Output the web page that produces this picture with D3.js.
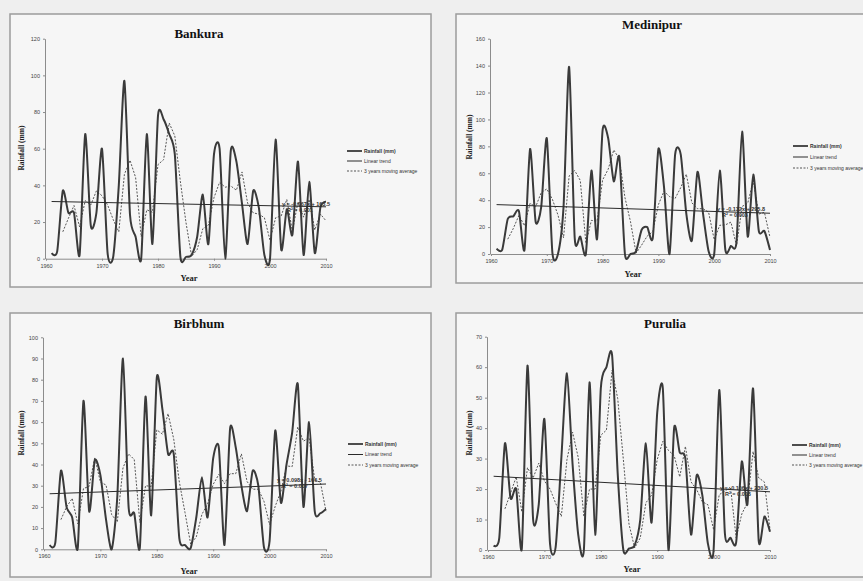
<!DOCTYPE html>
<html>
<head>
<meta charset="utf-8">
<script src="https://cdn.jsdelivr.net/npm/d3@7"></script>
<style>
  body { margin: 0; background: #efefef; }
  svg { display: block; }
</style>
</head>
<body>
<svg id="chart" width="863" height="581"></svg>
<script>
// years of record and decade ticks
const years = d3.range(1961, 2011)
const xTicks = [1960, 1970, 1980, 1990, 2000, 2010]

// annual rainfall (mm), 1961..2010
const bankuraRain = [3, 4, 37, 25, 25, 2, 68, 18, 25, 60,
  3, 1, 40, 97, 24, 12, 0, 68, 8, 78,
  76, 68, 57, 1, 1, 2, 12, 35, 8, 57,
  60, 0, 59, 53, 30, 8, 37, 28, 2, 0,
  65, 5, 27, 13, 53, 2, 42, 3, 28, 31]
const medinipurRain = [4, 3, 26, 28, 32, 3, 78, 24, 35, 86,
  1, 0, 35, 139, 12, 13, 0, 62, 11, 92,
  86, 54, 72, 0, 0, 2, 18, 20, 12, 78,
  50, 0, 74, 74, 30, 10, 61, 30, 2, 0,
  62, 3, 6, 9, 91, 13, 59, 17, 17, 3]
const birbhumRain = [2, 3, 37, 20, 15, 1, 70, 18, 42, 35,
  14, 0, 25, 90, 20, 17, 1, 72, 16, 81,
  66, 45, 45, 5, 2, 0.5, 15, 34, 15, 43,
  48, 2, 57, 48, 30, 18, 37, 30, 1, 4,
  56, 22, 40, 55, 78, 20, 60, 18, 17, 19]
const puruliaRain = [1.5, 4, 35, 17, 20, 0.5, 60.5, 10, 15, 43,
  2, 1, 30, 58, 28, 5, 0, 55, 5, 53,
  60, 64, 25, 0, 0.5, 1.5, 10, 35, 9, 45,
  53, 0, 40, 32, 30, 5, 24.5, 18, 2, 0,
  52.5, 5.5, 4, 2.5, 29, 15, 53, 3, 11, 6]

// linear trend values at 1961 and 2010
const bankuraTrend = [31.2, 28.3]
const medinipurTrend = [36.7, 30.3]
const birbhumTrend = [26.2, 30.8]
const puruliaTrend = [24.2, 19.1]

// y tick labels
const bankuraTicks = [0, 20, 40, 60, 80, 100, 120]
const medinipurTicks = [0, 20, 40, 60, 80, 100, 120, 140, 160]
const birbhumTicks = [0, 10, 20, 30, 40, 50, 60, 70, 80, 90, 100]
const puruliaTicks = [0, 10, 20, 30, 40, 50, 60, 70]

// trend equations
const bankuraEq = ['y = -0.067x + 163.5', 'R\u00b2 = 0.001']
const medinipurEq = ['y = -0.132x + 295.8', 'R\u00b2 = 0.003']
const birbhumEq = ['y = 0.098x - 166.5', 'R\u00b2 = 0.007']
const puruliaEq = ['y = -0.106x + 230.5', 'R\u00b2 = 0.008']

const legendLabels = ['Rainfall (mm)', 'Linear trend', '3 years moving average']

const serif = '"Liberation Serif", "DejaVu Serif", serif'
const sans = '"Liberation Sans", Arial, sans-serif'

const panels = [
  { name: 'Bankura', rain: bankuraRain, trend: bankuraTrend, ticks: bankuraTicks, eq: bankuraEq,
    frame: [10, 14, 421, 273], plot: [46, 326, 38.7, 258.7],
    title: [199, 38], yLabel: [21, 148], xLabel: [189, 281], legend: [347, 151, 10], eqPos: [282, 206] },
  { name: 'Medinipur', rain: medinipurRain, trend: medinipurTrend, ticks: medinipurTicks, eq: medinipurEq,
    frame: [456, 14, 430, 269], plot: [491, 770, 38.7, 254],
    title: [652, 29], yLabel: [469, 137], xLabel: [633, 277], legend: [793, 146, 11], eqPos: [717, 211] },
  { name: 'Birbhum', rain: birbhumRain, trend: birbhumTrend, ticks: birbhumTicks, eq: birbhumEq,
    frame: [10, 313, 421, 264], plot: [44, 326, 337.3, 549.3],
    title: [199, 328], yLabel: [21, 433], xLabel: [189, 574], legend: [348, 444, 10.5], eqPos: [277, 482] },
  { name: 'Purulia', rain: puruliaRain, trend: puruliaTrend, ticks: puruliaTicks, eq: puruliaEq,
    frame: [456, 313, 430, 264], plot: [488, 770, 336.7, 550],
    title: [665, 328], yLabel: [469, 433], xLabel: [632, 572], legend: [792, 445, 10], eqPos: [720, 490] }
]

const svg = d3.select('#chart')

function movingAverage(values, n) {
  const out = []
  for (let i = n - 1; i < values.length; i++) {
    out.push({ year: years[i], value: d3.mean(values.slice(i - n + 1, i + 1)) })
  }
  return out
}

panels.forEach(p => {
  const g = svg.append('g')
  const [fx, fy, fw, fh] = p.frame
  g.append('rect')
    .attr('x', fx).attr('y', fy).attr('width', fw).attr('height', fh)
    .attr('fill', '#f6f6f6').attr('stroke', '#9c9c9c').attr('stroke-width', 1.5)

  const [left, right, top, bottom] = p.plot
  const x = d3.scaleLinear().domain([1960, 2010]).range([left, right])
  const y = d3.scaleLinear().domain([0, d3.max(p.ticks)]).range([bottom, top])

  const xAxis = g.append('g').attr('transform', `translate(0, ${bottom})`)
    .call(d3.axisBottom(x).tickValues(xTicks).tickFormat(d3.format('d')).tickSize(2).tickSizeOuter(0).tickPadding(3))
  const yAxis = g.append('g').attr('transform', `translate(${left - 1}, 0)`)
    .call(d3.axisLeft(y).tickValues(p.ticks).tickSize(2).tickSizeOuter(0).tickPadding(3))
  ;[xAxis, yAxis].forEach(a => {
    a.selectAll('path, line').attr('stroke', '#8c8c8c')
    a.selectAll('text').attr('font-family', sans).attr('font-size', 5.5).attr('fill', '#444')
  })

  const rainPts = p.rain.map((v, i) => ({ year: years[i], value: v }))
  const smooth = d3.line().x(d => x(d.year)).y(d => y(d.value)).curve(d3.curveCardinal.tension(0.3))
  const straight = d3.line().x(d => x(d.year)).y(d => y(d.value))

  // 3 years moving average
  g.append('path').datum(movingAverage(p.rain, 3))
    .attr('d', straight).attr('fill', 'none')
    .attr('stroke', '#555').attr('stroke-width', 1).attr('stroke-dasharray', '2,1.5')

  // rainfall
  g.append('path').datum(rainPts)
    .attr('d', smooth).attr('fill', 'none')
    .attr('stroke', '#3a3a3a').attr('stroke-width', 2)

  // linear trend
  const trendPts = [{ year: years[0], value: p.trend[0] }, { year: years[years.length - 1], value: p.trend[1] }]
  g.append('path').datum(trendPts)
    .attr('d', straight).attr('fill', 'none')
    .attr('stroke', '#2a2a2a').attr('stroke-width', 1)

  // equation
  g.append('text').attr('x', p.eqPos[0]).attr('y', p.eqPos[1])
    .attr('font-family', sans).attr('font-size', 5.5).attr('font-weight', 'bold').attr('fill', '#333')
    .text(p.eq[0])
  g.append('text').attr('x', p.eqPos[0] + 5).attr('y', p.eqPos[1] + 6)
    .attr('font-family', sans).attr('font-size', 5.5).attr('font-weight', 'bold').attr('fill', '#333')
    .text(p.eq[1])

  // titles
  g.append('text').attr('x', p.title[0]).attr('y', p.title[1])
    .attr('text-anchor', 'middle').attr('font-family', serif).attr('font-weight', 'bold')
    .attr('font-size', 13).attr('fill', '#111').text(p.name)
  g.append('text').attr('transform', `translate(${p.yLabel[0]}, ${p.yLabel[1]}) rotate(-90)`)
    .attr('text-anchor', 'middle').attr('dy', '0.35em').attr('font-family', serif).attr('font-weight', 'bold')
    .attr('font-size', 7.5).attr('fill', '#222').text('Rainfall (mm)')
  g.append('text').attr('x', p.xLabel[0]).attr('y', p.xLabel[1])
    .attr('text-anchor', 'middle').attr('font-family', serif).attr('font-weight', 'bold')
    .attr('font-size', 8.5).attr('fill', '#222').text('Year')

  // legend
  const [lx, ly, gap] = p.legend
  const styles = [
    { w: 1.8, c: '#3a3a3a', dash: null },
    { w: 1, c: '#2a2a2a', dash: null },
    { w: 1, c: '#555', dash: '2,1.5' }
  ]
  legendLabels.forEach((label, i) => {
    const ry = ly + i * gap
    g.append('line').attr('x1', lx).attr('x2', lx + 15).attr('y1', ry).attr('y2', ry)
      .attr('stroke', styles[i].c).attr('stroke-width', styles[i].w)
      .attr('stroke-dasharray', styles[i].dash)
    g.append('text').attr('x', lx + 17).attr('y', ry).attr('dy', '0.35em')
      .attr('font-family', sans).attr('font-size', 5).attr('fill', '#333')
      .attr('font-weight', i === 0 ? 'bold' : 'normal').text(label)
  })
})
</script>
</body>
</html>
